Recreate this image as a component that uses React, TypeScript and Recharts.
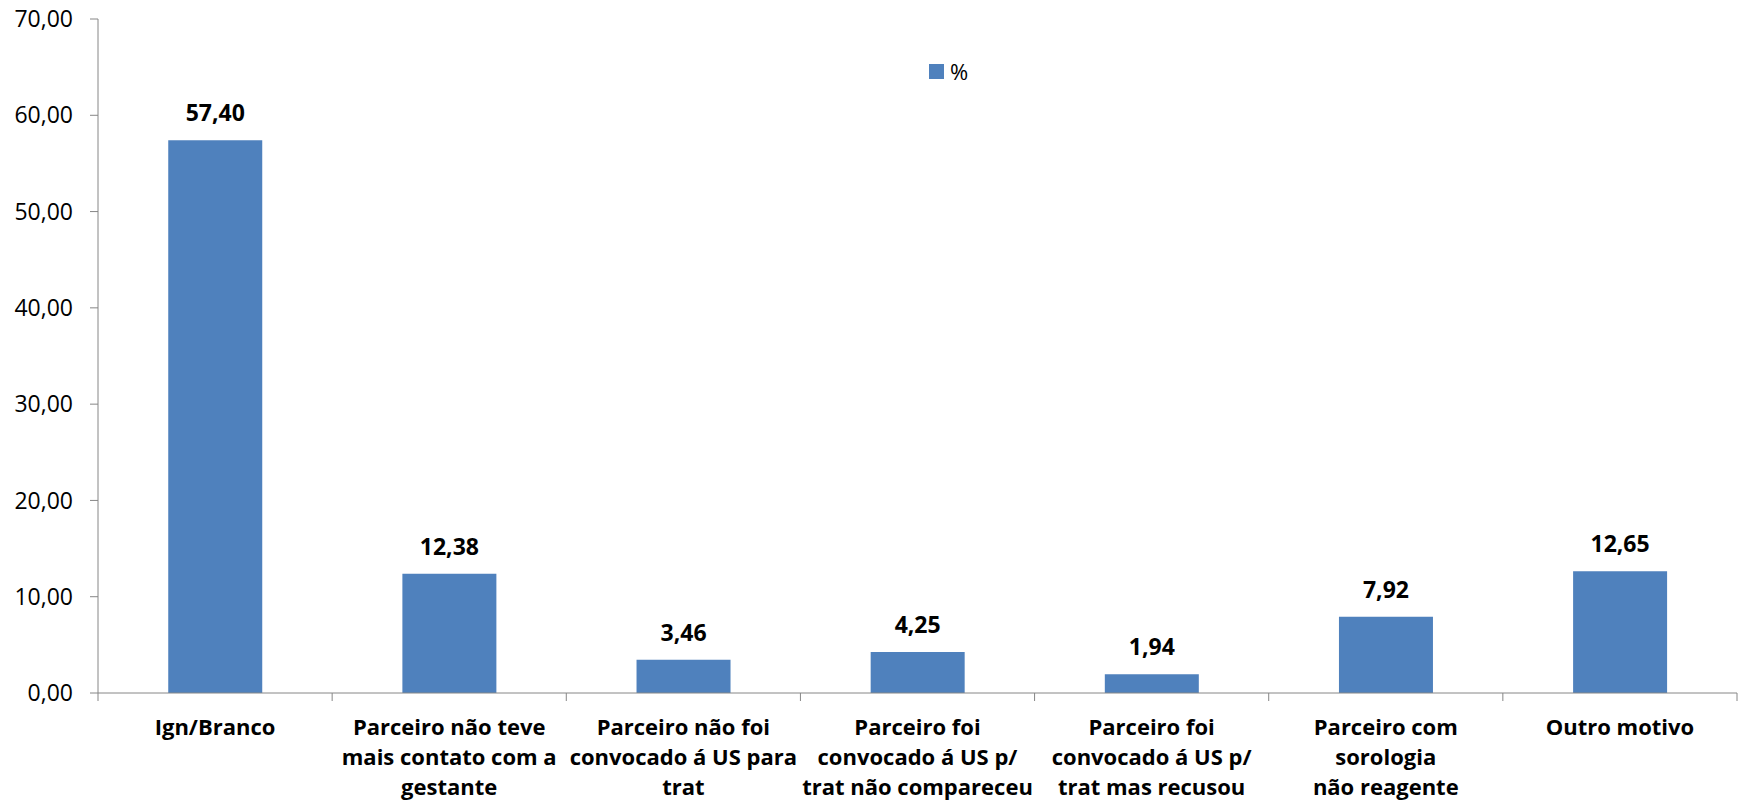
import React from 'react'
import { BarChart, Bar, XAxis, YAxis, Legend, LabelList } from 'recharts'

// data
const categories = [
  'Ign/Branco',
  'Parceiro não teve\nmais contato com a\ngestante',
  'Parceiro não foi\nconvocado á US para\ntrat',
  'Parceiro foi\nconvocado á US p/\ntrat não compareceu',
  'Parceiro foi\nconvocado á US p/\ntrat mas recusou',
  'Parceiro com\nsorologia\nnão reagente',
  'Outro motivo',
]
const percentValues = [57.4, 12.38, 3.46, 4.25, 1.94, 7.92, 12.65]
const yTicks = [0, 10, 20, 30, 40, 50, 60, 70]
const seriesName = '%'

const chartData = categories.map((name, i) => ({ name, value: percentValues[i] }))

const CHART_W = 1738
const CHART_H = 806
const MARGIN = { top: 19, right: 1, bottom: 0, left: 0 }
const YAXIS_W = 98
const XAXIS_H = 113
const PLOT_W = CHART_W - MARGIN.left - MARGIN.right - YAXIS_W
const BAND_W = PLOT_W / categories.length

const FONT = '"Open Sans", sans-serif'
const AXIS_COLOR = '#868686'
const BAR_COLOR = '#4F81BD'

const fmt = (v: number) => v.toFixed(2).replace('.', ',')

const CategoryTick = (props: any) => {
  const { x, y, payload, index } = props
  const lines = String(payload.value).split('\n')
  const left = x - BAND_W / 2
  const right = x + BAND_W / 2
  return (
    <g>
      <line x1={left} y1={y} x2={left} y2={y + 8} stroke={AXIS_COLOR} strokeWidth={1} />
      {index === categories.length - 1 && (
        <line x1={right} y1={y} x2={right} y2={y + 8} stroke={AXIS_COLOR} strokeWidth={1} />
      )}
      <text textAnchor="middle" fontFamily={FONT} fontWeight="bold" fontSize={22} fill="#000">
        {lines.map((l, i) => (
          <tspan key={i} x={x} y={y + 42 + i * 30}>{l}</tspan>
        ))}
      </text>
    </g>
  )
}

const renderValueLabel = (props: any) => {
  const { x, y, width, value } = props
  return (
    <text x={x + width / 2} y={y - 19} textAnchor="middle" fontFamily={FONT} fontWeight="bold" fontSize={23} fill="#000">
      {fmt(value)}
    </text>
  )
}

const renderLegend = () => (
  <div style={{ display: 'flex', alignItems: 'center', fontFamily: FONT, fontSize: 22, color: '#000' }}>
    <span style={{ width: 15, height: 15, background: BAR_COLOR, display: 'inline-block', marginRight: 6 }} />
    <span>{seriesName}</span>
  </div>
)

export default function App() {
  return (
    <div style={{ position: 'absolute', left: 0, top: 0, width: CHART_W, height: CHART_H, background: '#fff' }}>
      <BarChart width={CHART_W} height={CHART_H} data={chartData} margin={MARGIN} barCategoryGap="30%">
        <XAxis
          dataKey="name"
          height={XAXIS_H}
          interval={0}
          tickLine={false}
          tickSize={0}
          tickMargin={0}
          axisLine={{ stroke: AXIS_COLOR, strokeWidth: 1 }}
          tick={<CategoryTick />}
        />
        <YAxis
          width={YAXIS_W}
          domain={[0, 70]}
          ticks={yTicks}
          interval={0}
          tickFormatter={fmt}
          tickSize={8}
          tickMargin={17}
          axisLine={{ stroke: AXIS_COLOR, strokeWidth: 1 }}
          tickLine={{ stroke: AXIS_COLOR, strokeWidth: 1 }}
          tick={{ fontFamily: FONT, fontSize: 23, fill: '#000' }}
        />
        <Legend
          verticalAlign="middle"
          align="center"
          content={renderLegend}
          wrapperStyle={{ top: 56, left: 929, width: 80 }}
        />
        <Bar dataKey="value" name={seriesName} fill={BAR_COLOR} isAnimationActive={false}>
          <LabelList dataKey="value" content={renderValueLabel} />
        </Bar>
      </BarChart>
    </div>
  )
}
